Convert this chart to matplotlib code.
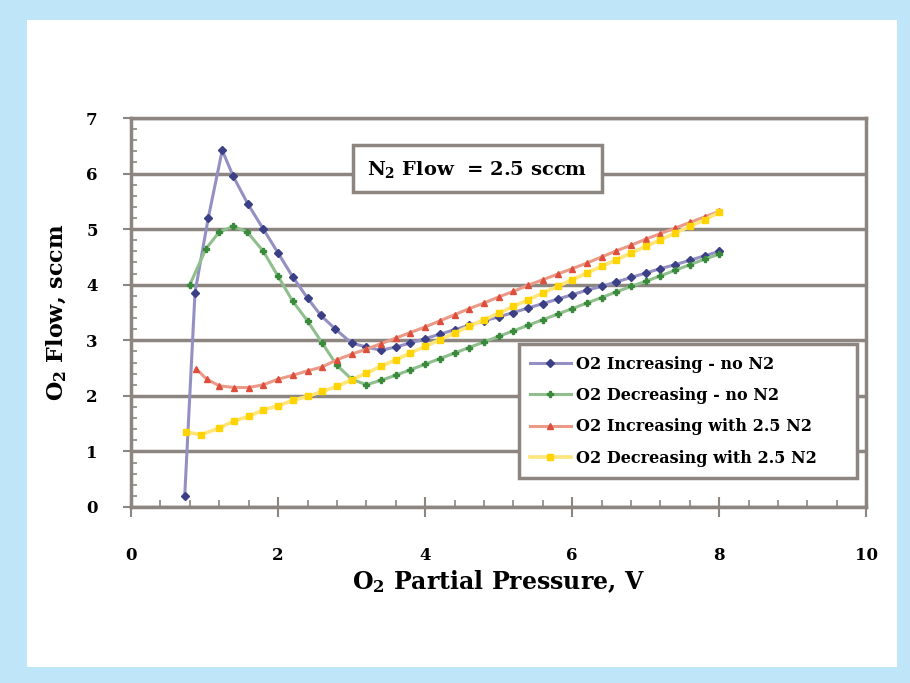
import matplotlib.pyplot as plt
from matplotlib.patches import Rectangle
from matplotlib.ticker import MultipleLocator

# O2 increasing, no N2
inc_no_x = [0.73, 0.87, 1.05, 1.24, 1.39, 1.59, 1.8, 2.0, 2.2, 2.4, 2.58, 2.78, 3.0,
            3.2, 3.4, 3.6, 3.8, 4.0, 4.2, 4.4, 4.6, 4.8, 5.0, 5.2, 5.4, 5.6, 5.8,
            6.0, 6.2, 6.4, 6.6, 6.8, 7.0, 7.2, 7.4, 7.6, 7.8, 8.0]
inc_no_y = [0.2, 3.86, 5.2, 6.42, 5.95, 5.45, 5.0, 4.57, 4.14, 3.76, 3.45, 3.2, 2.95,
            2.88, 2.82, 2.88, 2.95, 3.03, 3.11, 3.19, 3.27, 3.35, 3.42, 3.5, 3.58, 3.66, 3.74,
            3.82, 3.9, 3.97, 4.05, 4.13, 4.21, 4.29, 4.36, 4.44, 4.52, 4.6]

# O2 decreasing, no N2
dec_no_x = [0.8, 1.02, 1.2, 1.39, 1.58, 1.8, 2.0, 2.2, 2.4, 2.6, 2.8, 3.0,
            3.2, 3.4, 3.6, 3.8, 4.0, 4.2, 4.4, 4.6, 4.8, 5.0, 5.2, 5.4, 5.6, 5.8,
            6.0, 6.2, 6.4, 6.6, 6.8, 7.0, 7.2, 7.4, 7.6, 7.8, 8.0]
dec_no_y = [4.0, 4.65, 4.95, 5.05, 4.95, 4.6, 4.15, 3.7, 3.35, 2.95, 2.55, 2.3,
            2.2, 2.28, 2.37, 2.47, 2.57, 2.67, 2.77, 2.87, 2.97, 3.07, 3.17, 3.27, 3.37, 3.47,
            3.57, 3.67, 3.77, 3.87, 3.97, 4.06, 4.16, 4.26, 4.36, 4.46, 4.55]

# O2 increasing with 2.5 N2
inc_n2_x = [0.89, 1.03, 1.2, 1.4, 1.6, 1.8, 2.0, 2.2, 2.4, 2.6, 2.8, 3.0,
            3.2, 3.4, 3.6, 3.8, 4.0, 4.2, 4.4, 4.6, 4.8, 5.0, 5.2, 5.4, 5.6, 5.8,
            6.0, 6.2, 6.4, 6.6, 6.8, 7.0, 7.2, 7.4, 7.6, 7.8, 8.0]
inc_n2_y = [2.48, 2.3, 2.18, 2.15, 2.15, 2.2, 2.3, 2.37, 2.45, 2.52, 2.65, 2.75,
            2.84, 2.94, 3.04, 3.14, 3.24, 3.35, 3.46, 3.57, 3.67, 3.78, 3.88, 3.99, 4.09, 4.19,
            4.29, 4.39, 4.5, 4.61, 4.71, 4.82, 4.92, 5.02, 5.12, 5.22, 5.32]

# O2 decreasing with 2.5 N2
dec_n2_x = [0.75, 0.95, 1.2, 1.4, 1.6, 1.8, 2.0, 2.2, 2.4, 2.6, 2.8, 3.0,
            3.2, 3.4, 3.6, 3.8, 4.0, 4.2, 4.4, 4.6, 4.8, 5.0, 5.2, 5.4, 5.6, 5.8,
            6.0, 6.2, 6.4, 6.6, 6.8, 7.0, 7.2, 7.4, 7.6, 7.8, 8.0]
dec_n2_y = [1.35, 1.3, 1.42, 1.55, 1.63, 1.75, 1.82, 1.92, 1.99, 2.08, 2.17, 2.29,
            2.41, 2.53, 2.65, 2.77, 2.89, 3.01, 3.13, 3.25, 3.37, 3.49, 3.61, 3.73, 3.85, 3.97,
            4.09, 4.21, 4.33, 4.45, 4.57, 4.69, 4.81, 4.93, 5.05, 5.17, 5.3]

labels = ["O2 Increasing - no N2", "O2 Decreasing - no N2",
          "O2 Increasing with 2.5 N2", "O2 Decreasing with 2.5 N2"]

plt.rcParams['font.family'] = ['DejaVu Serif']
plt.rcParams['font.weight'] = 'bold'
plt.rcParams['mathtext.fontset'] = 'dejavuserif'
plt.rcParams['mathtext.default'] = 'bf'

fig = plt.figure(figsize=(9.1, 6.83), dpi=100)
fig.patch.set_facecolor('#bfe6f8')
# white panel on the blue page
fig.patches.append(Rectangle((27 / 910, 1 - 667 / 683), 870 / 910, 647 / 683,
                             transform=fig.transFigure, facecolor='white',
                             edgecolor='none', zorder=-10))

ax = fig.add_axes([0.144, 0.2577, 0.808, 0.5695])
ax.set_facecolor('white')
grid_c = '#8c8580'

ax.plot(inc_no_x, inc_no_y, color='#9490c4', lw=2.2, marker='D', ms=4,
        mfc='#3b3f85', mec='#3b3f85', label=labels[0], zorder=3)
ax.plot(dec_no_x, dec_no_y, color='#8fbf8c', lw=2.2, marker='P', ms=5,
        mfc='#3a8a3c', mec='#3a8a3c', label=labels[1], zorder=3)
ax.plot(inc_n2_x, inc_n2_y, color='#eb9a88', lw=2.2, marker='^', ms=4,
        mfc='#dd4f3c', mec='#dd4f3c', label=labels[2], zorder=3)
ax.plot(dec_n2_x, dec_n2_y, color='#ffe57a', lw=2.6, marker='s', ms=5,
        mfc='#ffd400', mec='#ffd400', label=labels[3], zorder=3)

ax.set_xlim(0, 10)
ax.set_ylim(0, 7)
ax.xaxis.set_major_locator(MultipleLocator(2))
ax.xaxis.set_minor_locator(MultipleLocator(0.4))
ax.yaxis.set_major_locator(MultipleLocator(1))
ax.yaxis.set_minor_locator(MultipleLocator(0.2))
ax.grid(True, axis='y', which='major', color=grid_c, lw=2.5, zorder=1)

for s in ax.spines.values():
    s.set_color(grid_c)
    s.set_linewidth(2.5)

ax.tick_params(axis='x', which='major', direction='inout', length=14, width=1.5,
               color=grid_c, pad=22, labelsize=12)
ax.tick_params(axis='x', which='minor', direction='in', length=5, width=1.2, color=grid_c)
ax.tick_params(axis='y', which='major', direction='out', length=6, width=1.5,
               color=grid_c, pad=18, labelsize=12)
ax.tick_params(axis='y', which='minor', direction='in', length=4, width=1.2, color=grid_c)

ax.set_xlabel("O$_2$ Partial Pressure, V", fontsize=17, fontweight='bold', labelpad=3)
ax.set_ylabel("O$_2$ Flow, sccm", fontsize=16, fontweight='bold', labelpad=12)

# annotation box
ax.add_patch(Rectangle((3.02, 5.66), 3.39, 0.86, facecolor='white', edgecolor=grid_c,
                       lw=2.5, zorder=5))
ax.text(4.71, 6.08, "N$_2$ Flow  = 2.5 sccm", ha='center', va='center', fontsize=14,
        fontweight='bold', zorder=6)

leg = ax.legend(loc='lower left', bbox_to_anchor=(0.527, 0.075, 0.461, 0.34), mode='expand',
                frameon=True, fancybox=False, borderpad=0.7, borderaxespad=0,
                labelspacing=0.9, handlelength=2.6, handletextpad=0.3,
                prop={'weight': 'bold', 'size': 11.5})
leg.get_frame().set_edgecolor(grid_c)
leg.get_frame().set_linewidth(2.5)
leg.get_frame().set_alpha(1)
leg.set_zorder(7)

fig.savefig('out.png', dpi=100, facecolor=fig.get_facecolor())
